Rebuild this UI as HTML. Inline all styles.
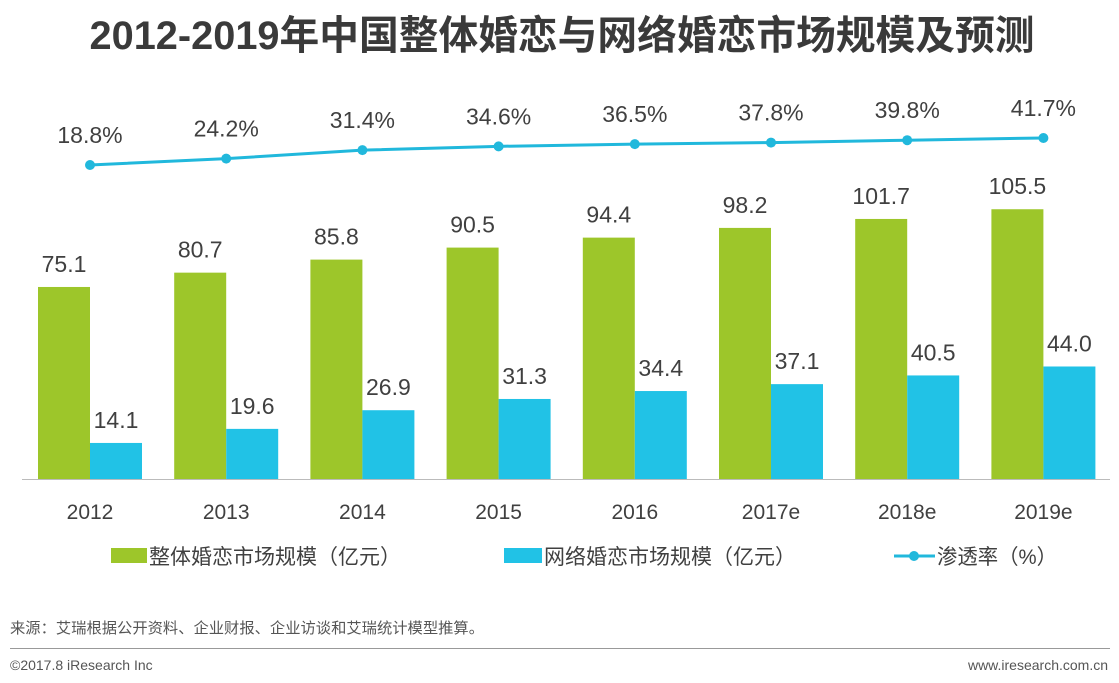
<!DOCTYPE html>
<html><head><meta charset="utf-8"><style>
body{margin:0;background:#fff;}
svg{display:block;font-family:"Liberation Sans","Noto Sans CJK SC",sans-serif;}
</style></head><body>
<svg width="1119" height="683" viewBox="0 0 1119 683">
<text x="562" y="49" text-anchor="middle" font-size="40" font-weight="bold" fill="#3a3a3a" textLength="945" lengthAdjust="spacingAndGlyphs">2012-2019年中国整体婚恋与网络婚恋市场规模及预测</text>
<g id="bars"></g>
<line x1="22" y1="479.5" x2="1110" y2="479.5" stroke="#bbb" stroke-width="1"/>
<g id="line"></g>
<g id="xlabels"></g>
<g>
<rect x="111" y="548" width="36" height="15" fill="#9dc62a"/>
<text x="149" y="564" font-size="21" fill="#404040" textLength="252" lengthAdjust="spacingAndGlyphs">整体婚恋市场规模（亿元）</text>
<rect x="504" y="548" width="38" height="15" fill="#21c2e6"/>
<text x="544" y="564" font-size="21" fill="#404040" textLength="252" lengthAdjust="spacingAndGlyphs">网络婚恋市场规模（亿元）</text>
<line x1="894" y1="556" x2="935" y2="556" stroke="#21b8dc" stroke-width="3"/>
<circle cx="914" cy="556" r="5" fill="#21b8dc"/>
<text x="937" y="564" font-size="21" fill="#404040" textLength="120" lengthAdjust="spacingAndGlyphs">渗透率（%）</text>
</g>
<text x="10" y="633" font-size="15" fill="#555" textLength="474" lengthAdjust="spacingAndGlyphs">来源：艾瑞根据公开资料、企业财报、企业访谈和艾瑞统计模型推算。</text>
<line x1="10" y1="648.5" x2="1110" y2="648.5" stroke="#999" stroke-width="1"/>
<text x="10" y="670" font-size="14" fill="#555">©2017.8 iResearch Inc</text>
<text x="1108" y="670" font-size="14" fill="#555" text-anchor="end">www.iresearch.com.cn</text>
</svg>
<script>
const categories=["2012","2013","2014","2015","2016","2017e","2018e","2019e"];
const totalValues=[75.1,80.7,85.8,90.5,94.4,98.2,101.7,105.5];
const onlineValues=[14.1,19.6,26.9,31.3,34.4,37.1,40.5,44.0];
const rateValues=[18.8,24.2,31.4,34.6,36.5,37.8,39.8,41.7];
const NS="http://www.w3.org/2000/svg";
const base=479, k=2.557, bw=52;
const xc=i=>90+i*136.2;
const yv=v=>base-v*k;
const yr=v=>165-(v-18.8)*1.18;
function mk(tag,attrs,parent,txt){const e=document.createElementNS(NS,tag);for(const a in attrs)e.setAttribute(a,attrs[a]);if(txt!==undefined)e.textContent=txt;parent.appendChild(e);return e;}
const gb=document.getElementById('bars'),gl=document.getElementById('line'),gx=document.getElementById('xlabels');
categories.forEach((c,i)=>{
  const x=xc(i);
  let r=mk('rect',{x:x-bw,y:yv(totalValues[i]),width:bw,height:totalValues[i]*k,fill:'#9dc62a'},gb);
  
  
  let t=mk('text',{x:x-bw/2,y:yv(totalValues[i])-15,'text-anchor':'middle','font-size':23,fill:'#404040'},gb,totalValues[i].toFixed(1));
  
  
  r=mk('rect',{x:x,y:yv(onlineValues[i]),width:bw,height:onlineValues[i]*k,fill:'#21c2e6'},gb);
  
  
  t=mk('text',{x:x+bw/2,y:yv(onlineValues[i])-15,'text-anchor':'middle','font-size':23,fill:'#404040'},gb,onlineValues[i].toFixed(1));
  
  
  t=mk('text',{x:x,y:519,'text-anchor':'middle','font-size':21,fill:'#404040'},gx,c);
  
  
});
const pts=rateValues.map((v,i)=>xc(i)+','+yr(v)).join(' ');
const pl=mk('polyline',{points:pts,fill:'none',stroke:'#21b8dc','stroke-width':3},gl);


rateValues.forEach((v,i)=>{
  const c=mk('circle',{cx:xc(i),cy:yr(v),r:5,fill:'#21b8dc'},gl);
  
  
  const t=mk('text',{x:xc(i),y:yr(v)-22,'text-anchor':'middle','font-size':23,fill:'#404040'},gl,v.toFixed(1)+'%');
  
  
});
</script>
</body></html>
